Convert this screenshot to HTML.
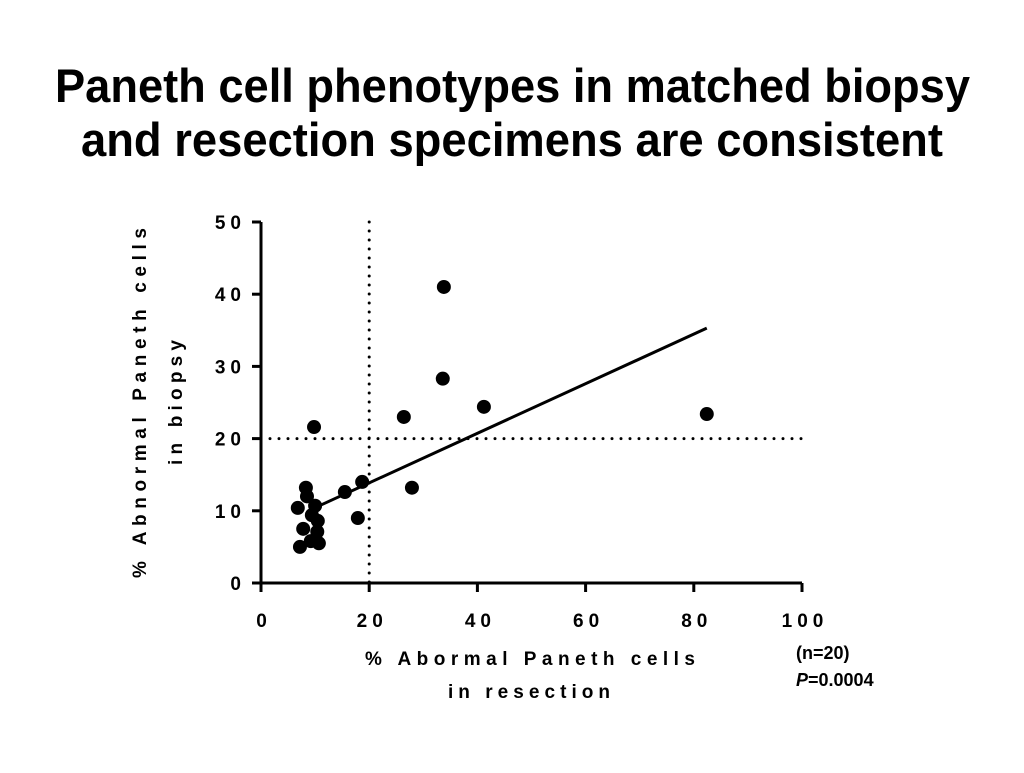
<!DOCTYPE html>
<html><head><meta charset="utf-8"><style>
body{margin:0;background:#fff;width:1024px;height:768px;overflow:hidden;font-family:"Liberation Sans",sans-serif}
</style></head><body>
<svg width="1024" height="768" font-family="Liberation Sans, sans-serif">
<text x="55" y="102" font-size="47" font-weight="bold" textLength="915" lengthAdjust="spacingAndGlyphs">Paneth cell phenotypes in matched biopsy</text>
<text x="81" y="156" font-size="47" font-weight="bold" textLength="862" lengthAdjust="spacingAndGlyphs">and resection specimens are consistent</text>
<g id="plot"></g>
<text x="365" y="665" font-size="19" font-weight="bold" textLength="330" lengthAdjust="spacing">% Abormal Paneth cells</text>
<text x="448" y="698" font-size="19" font-weight="bold" textLength="162" lengthAdjust="spacing">in resection</text>
<text transform="translate(146,578) rotate(-90)" font-size="19" font-weight="bold" textLength="350" lengthAdjust="spacing">% Abnormal Paneth cells</text>
<text transform="translate(182,465) rotate(-90)" font-size="19" font-weight="bold" textLength="125" lengthAdjust="spacing">in biopsy</text>
<text x="796" y="659" font-size="18" font-weight="bold">(n=20)</text>
<text x="796" y="686" font-size="18" font-weight="bold"><tspan font-style="italic">P</tspan>=0.0004</text>
</svg>
<script>
const xVals=[8.3,8.5,6.8,10.0,10.5,9.4,7.8,10.4,9.2,10.7,7.2,15.5,18.7,17.9,9.8,26.4,33.6,33.8,41.2,27.9,82.4];
const yVals=[13.2,12.0,10.4,10.7,8.6,9.4,7.5,7.1,5.8,5.5,5.0,12.6,14.0,9.0,21.6,23.0,28.3,41.0,24.4,13.2,23.4];
const fitX=[10.2,82.4];
const fitY=[10.5,35.3];
const xTicks=[0,20,40,60,80,100];
const yTicks=[0,10,20,30,40,50];
const cutoff=20;
const X=v=>261+v*5.41, Y=v=>583-v*7.22;
const ns="http://www.w3.org/2000/svg", g=document.getElementById('plot');
function mk(t,a){const e=document.createElementNS(ns,t);for(const k in a)e.setAttribute(k,a[k]);g.appendChild(e);return e;}
let e;
e=mk('line',{x1:X(cutoff),y1:Y(50),x2:X(cutoff),y2:Y(0),stroke:'#000','stroke-width':3,'stroke-dasharray':'0 9','stroke-linecap':'round'});


e=mk('line',{x1:X(0),y1:Y(cutoff),x2:X(100),y2:Y(cutoff),stroke:'#000','stroke-width':3,'stroke-dasharray':'0 9','stroke-linecap':'round'});


e=mk('path',{d:`M${X(0)},${Y(50)}V${Y(0)}H${X(100)}`,fill:'none',stroke:'#000','stroke-width':3});


xTicks.forEach(t=>{
 e=mk('line',{x1:X(t),y1:Y(0),x2:X(t),y2:Y(0)+9,stroke:'#000','stroke-width':3});
 
 
 e=mk('text',{x:X(t)+3,y:627,'text-anchor':'middle','font-size':19,'font-weight':'bold','letter-spacing':5});
 e.textContent=t;
 
 
});
yTicks.forEach(t=>{
 e=mk('line',{x1:X(0)-9,y1:Y(t),x2:X(0),y2:Y(t),stroke:'#000','stroke-width':3});
 
 
 e=mk('text',{x:246,y:Y(t)+7,'text-anchor':'end','font-size':19,'font-weight':'bold','letter-spacing':5});
 e.textContent=t;
 
 
});
e=mk('line',{x1:X(fitX[0]),y1:Y(fitY[0]),x2:X(fitX[1]),y2:Y(fitY[1]),stroke:'#000','stroke-width':3});


xVals.forEach((v,i)=>{
 e=mk('circle',{cx:X(v),cy:Y(yVals[i]),r:7,fill:'#000'});
 
 
});
</script>
</body></html>
